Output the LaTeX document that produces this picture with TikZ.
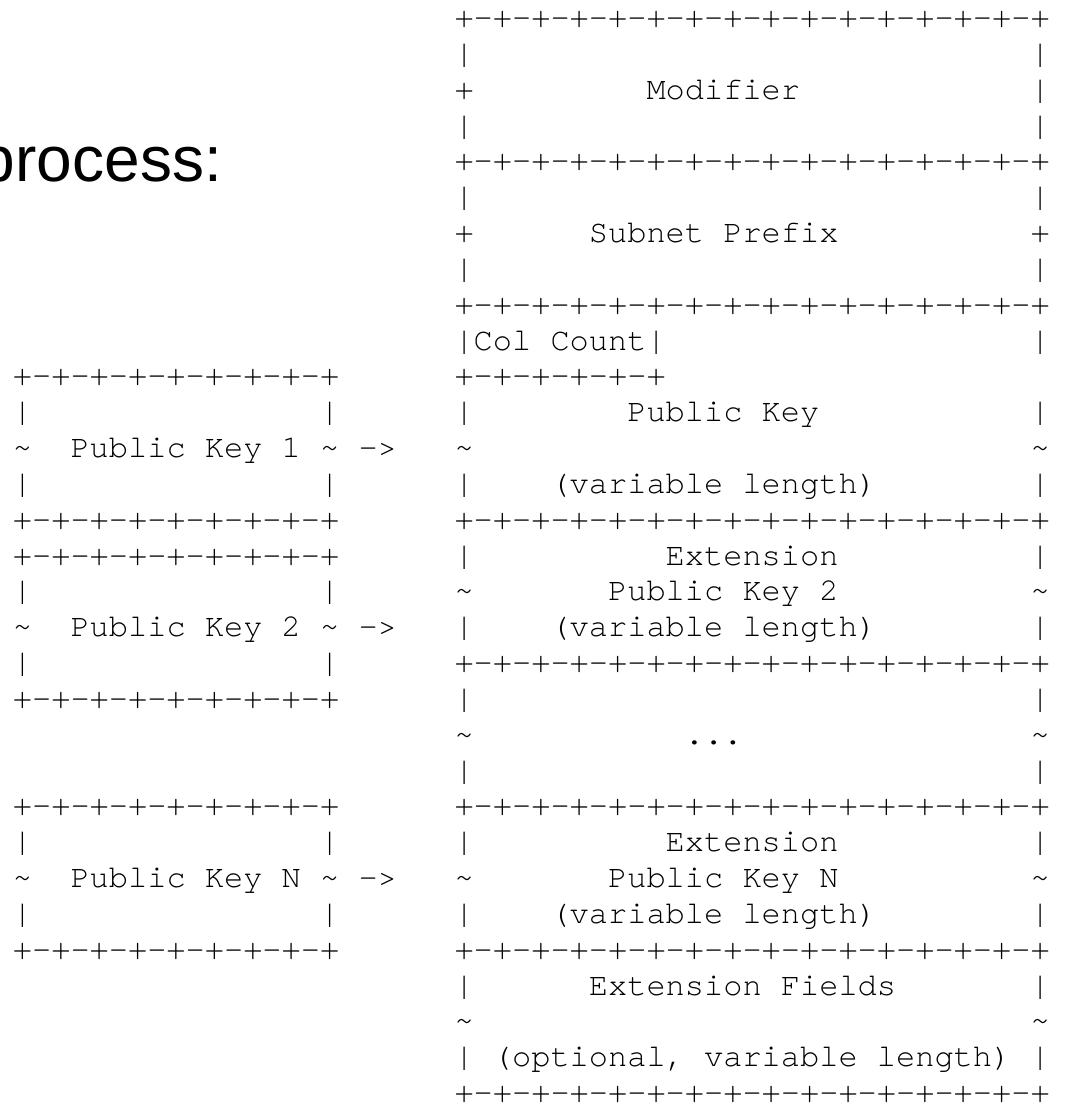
\documentclass[tikz,border=0pt]{standalone}
\usepackage{fontspec}
\newfontfamily\asciimono[Ligatures=NoCommon]{TeX Gyre Cursor}
\newfontfamily\slidesans{Liberation Sans}
\frenchspacing
\tikzset{
  mono/.style={anchor=base west, inner sep=0pt, outer sep=0pt,
    font=\asciimono\fontsize{32}{36}\selectfont, text=black},
  slide/.style={anchor=base west, inner sep=0pt, outer sep=0pt,
    font=\slidesans\fontsize{64}{70}\selectfont, text=black}
}
\newcommand\cellat[3]{\node[mono] (r#1c#2) at ({12.9+#2*19.2},{27.6+#1*35.83}) {#3};}
\newcommand\brdR{+-+-+-+-+-+-+-+-+-+-+-+-+-+-+-+}
\newcommand\brdL{+-+-+-+-+-+-+-+-+}
\newcommand\brdC{+-+-+-+-+-+}
\newcommand\tl{\textasciitilde}
\begin{document}
\begin{tikzpicture}[x=1pt,y=-1pt]
\useasboundingbox (0,0) rectangle (1065,1111);
\node[slide] (proc) at (-20,181) {process:};
% right block
\cellat{0}{23}{\brdR}
\cellat{1}{23}{|}\cellat{1}{53}{|}
\cellat{2}{23}{+}\cellat{2}{33}{Modifier}\cellat{2}{53}{|}
\cellat{3}{23}{|}\cellat{3}{53}{|}
\cellat{4}{23}{\brdR}
\cellat{5}{23}{|}\cellat{5}{53}{|}
\cellat{6}{23}{+}\cellat{6}{30}{Subnet Prefix}\cellat{6}{53}{+}
\cellat{7}{23}{|}\cellat{7}{53}{|}
\cellat{8}{23}{\brdR}
\cellat{9}{23}{|Col Count|}\cellat{9}{53}{|}
\cellat{10}{23}{\brdC}
\cellat{11}{23}{|}\cellat{11}{32}{Public Key}\cellat{11}{53}{|}
\cellat{12}{23}{\tl}\cellat{12}{53}{\tl}
\cellat{13}{23}{|}\cellat{13}{28}{(variable length)}\cellat{13}{53}{|}
\cellat{14}{23}{\brdR}
\cellat{15}{23}{|}\cellat{15}{34}{Extension}\cellat{15}{53}{|}
\cellat{16}{23}{\tl}\cellat{16}{31}{Public Key 2}\cellat{16}{53}{\tl}
\cellat{17}{23}{|}\cellat{17}{28}{(variable length)}\cellat{17}{53}{|}
\cellat{18}{23}{\brdR}
\cellat{19}{23}{|}\cellat{19}{53}{|}
\cellat{20}{23}{\tl}\cellat{20}{35}{...}\cellat{20}{53}{\tl}
\cellat{21}{23}{|}\cellat{21}{53}{|}
\cellat{22}{23}{\brdR}
\cellat{23}{23}{|}\cellat{23}{34}{Extension}\cellat{23}{53}{|}
\cellat{24}{23}{\tl}\cellat{24}{31}{Public Key N}\cellat{24}{53}{\tl}
\cellat{25}{23}{|}\cellat{25}{28}{(variable length)}\cellat{25}{53}{|}
\cellat{26}{23}{\brdR}
\cellat{27}{23}{|}\cellat{27}{30}{Extension Fields}\cellat{27}{53}{|}
\cellat{28}{23}{\tl}\cellat{28}{53}{\tl}
\cellat{29}{23}{| (optional, variable length) |}
\cellat{30}{23}{\brdR}
% left blocks
\cellat{10}{0}{\brdL}
\cellat{11}{0}{|}\cellat{11}{16}{|}
\cellat{12}{0}{\tl}\cellat{12}{3}{Public Key 1}\cellat{12}{16}{\tl}\cellat{12}{18}{->}
\cellat{13}{0}{|}\cellat{13}{16}{|}
\cellat{14}{0}{\brdL}
\cellat{15}{0}{\brdL}
\cellat{16}{0}{|}\cellat{16}{16}{|}
\cellat{17}{0}{\tl}\cellat{17}{3}{Public Key 2}\cellat{17}{16}{\tl}\cellat{17}{18}{->}
\cellat{18}{0}{|}\cellat{18}{16}{|}
\cellat{19}{0}{\brdL}
\cellat{22}{0}{\brdL}
\cellat{23}{0}{|}\cellat{23}{16}{|}
\cellat{24}{0}{\tl}\cellat{24}{3}{Public Key N}\cellat{24}{16}{\tl}\cellat{24}{18}{->}
\cellat{25}{0}{|}\cellat{25}{16}{|}
\cellat{26}{0}{\brdL}
\end{tikzpicture}
\end{document}
